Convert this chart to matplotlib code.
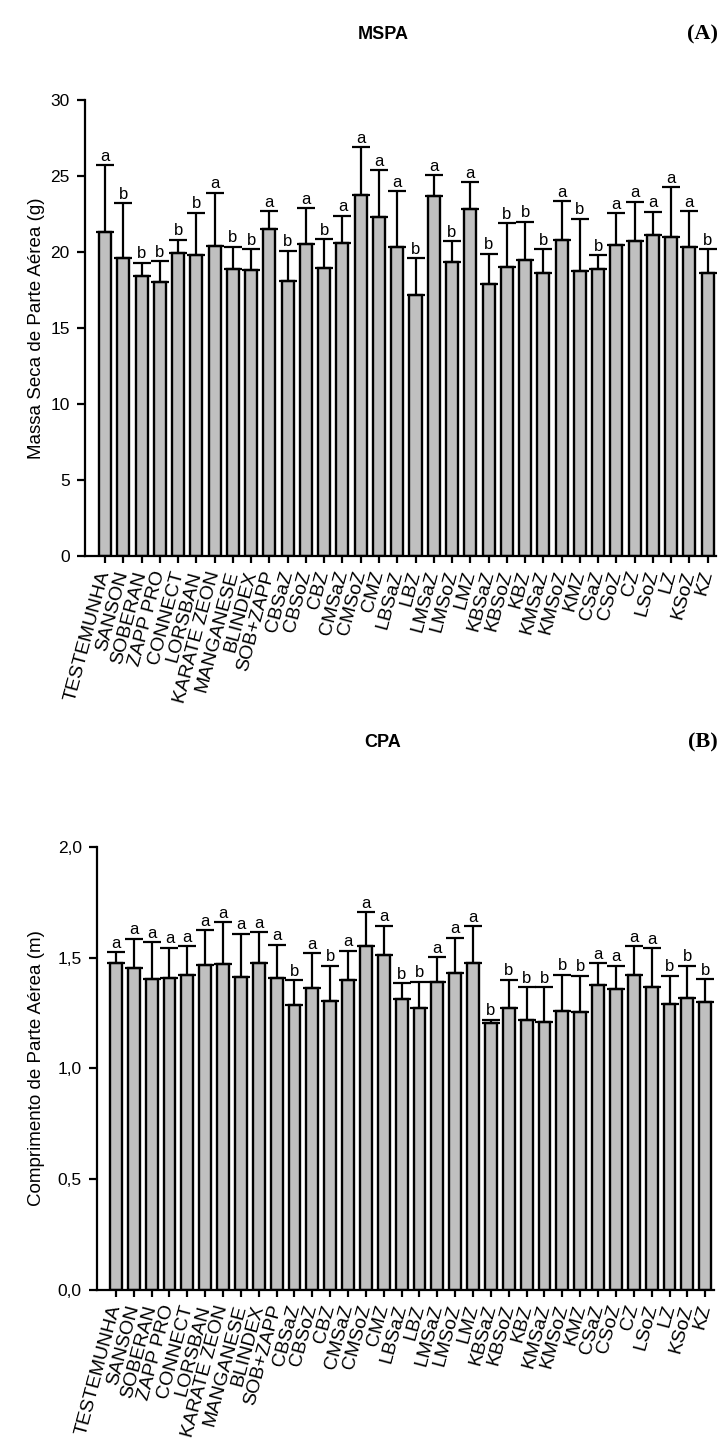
import numpy as np
import matplotlib.pyplot as plt

plt.rcParams['font.family'] = ['Liberation Sans', 'DejaVu Sans']

treatments = ['TESTEMUNHA', 'SANSON', 'SOBERAN', 'ZAPP PRO', 'CONNECT', 'LORSBAN',
              'KARATE ZEON', 'MANGANESE', 'BLINDEX', 'SOB+ZAPP', 'CBSaZ', 'CBSoZ',
              'CBZ', 'CMSaZ', 'CMSoZ', 'CMZ', 'LBSaZ', 'LBZ', 'LMSaZ', 'LMSoZ', 'LMZ',
              'KBSaZ', 'KBSoZ', 'KBZ', 'KMSaZ', 'KMSoZ', 'KMZ', 'CSaZ', 'CSoZ', 'CZ',
              'LSoZ', 'LZ', 'KSoZ', 'KZ']

# MSPA - massa seca de parte aerea (g)
mspa_mean = [21.3, 19.6, 18.4, 18.05, 19.95, 19.8, 20.4, 18.9, 18.85, 21.5, 18.1, 20.55,
             18.95, 20.6, 23.75, 22.3, 20.3, 17.2, 23.7, 19.35, 22.8, 17.9, 19.0, 19.5,
             18.65, 20.8, 18.75, 18.9, 20.45, 20.7, 21.1, 21.0, 20.3, 18.6]
mspa_sd = [4.4, 3.6, 0.9, 1.35, 0.85, 2.8, 3.5, 1.45, 1.35, 1.2, 2.0, 2.35, 1.9, 1.8,
           3.15, 3.1, 3.7, 2.4, 1.35, 1.35, 1.8, 2.0, 2.9, 2.5, 1.55, 2.55, 3.45, 0.9,
           2.1, 2.6, 1.55, 3.25, 2.4, 1.6]
mspa_letters = ['a', 'b', 'b', 'b', 'b', 'b', 'a', 'b', 'b', 'a', 'b', 'a', 'b', 'a', 'a',
                'a', 'a', 'b', 'a', 'b', 'a', 'b', 'b', 'b', 'b', 'a', 'b', 'b', 'a', 'a',
                'a', 'a', 'a', 'b']

# CPA - comprimento de parte aerea (m)
cpa_mean = [1.475, 1.455, 1.404, 1.407, 1.421, 1.469, 1.472, 1.415, 1.476, 1.409, 1.285,
            1.362, 1.305, 1.40, 1.554, 1.511, 1.315, 1.275, 1.392, 1.43, 1.478, 1.205,
            1.275, 1.22, 1.21, 1.26, 1.255, 1.375, 1.36, 1.422, 1.368, 1.29, 1.32, 1.30]
cpa_sd = [0.05, 0.13, 0.166, 0.138, 0.131, 0.156, 0.189, 0.194, 0.139, 0.15, 0.113,
          0.158, 0.159, 0.132, 0.152, 0.134, 0.071, 0.117, 0.111, 0.161, 0.165, 0.015,
          0.125, 0.148, 0.158, 0.164, 0.164, 0.101, 0.104, 0.131, 0.175, 0.129, 0.144,
          0.103]
cpa_letters = ['a', 'a', 'a', 'a', 'a', 'a', 'a', 'a', 'a', 'a', 'b', 'a', 'b', 'a', 'a',
               'a', 'b', 'b', 'a', 'a', 'a', 'b', 'b', 'b', 'b', 'b', 'b', 'a', 'a', 'a',
               'a', 'b', 'b', 'b']


def panel(ax, mean, sd, letters, ylim, yticks, yticklabels, ylabel, xlim, labelpad):
    x = np.arange(len(treatments))
    mean = np.array(mean)
    sd = np.array(sd)
    ax.bar(x, mean, width=0.66, color='#c0c0c0', edgecolor='black', linewidth=1.7, zorder=2)
    ax.errorbar(x, mean, yerr=[np.zeros_like(sd), sd], fmt='none', ecolor='black',
                elinewidth=1.6, capsize=6.5, capthick=1.6, zorder=3)
    for xi, top, lt in zip(x, mean + sd, letters):
        ax.annotate(lt, (xi, top), xytext=(0, 1.0), textcoords='offset points',
                    ha='center', va='bottom', fontsize=12)
    ax.set_xlim(xlim)
    ax.set_ylim(ylim)
    ax.set_yticks(yticks)
    ax.set_yticklabels(yticklabels, fontsize=12.5)
    ax.set_xticks(x)
    ax.set_xticklabels(treatments, rotation=75, ha='right', va='center',
                       rotation_mode='anchor', fontsize=14)
    ax.set_ylabel(ylabel, fontsize=13.5, labelpad=labelpad)
    ax.spines['top'].set_visible(False)
    ax.spines['right'].set_visible(False)
    ax.spines['left'].set_linewidth(1.6)
    ax.spines['bottom'].set_linewidth(1.6)
    ax.tick_params(axis='both', direction='out', width=1.6)
    ax.tick_params(axis='y', length=6, pad=5)
    ax.tick_params(axis='x', length=5, pad=6)


fig = plt.figure(figsize=(7.21, 14.54), dpi=100)

ax1 = fig.add_axes([0.1179, 0.6176, 0.875, 0.3136])
panel(ax1, mspa_mean, mspa_sd, mspa_letters, (0, 30), range(0, 31, 5),
      [str(v) for v in range(0, 31, 5)], 'Massa Seca de Parte Aérea (g)', (-1.1, 33.45), 4)
fig.text(0.531, 0.976, 'MSPA', ha='center', va='center', fontsize=13, fontweight='bold')
fig.text(0.975, 0.976, '(A)', ha='center', va='center', fontsize=16, fontweight='bold',
         family='Liberation Serif')

ax2 = fig.add_axes([0.1345, 0.1128, 0.856, 0.3047])
panel(ax2, cpa_mean, cpa_sd, cpa_letters, (0, 2.0), [0, 0.5, 1.0, 1.5, 2.0],
      ['0,0', '0,5', '1,0', '1,5', '2,0'], 'Comprimento de Parte Aérea (m)', (-1.06, 33.5), 9)
fig.text(0.531, 0.4895, 'CPA', ha='center', va='center', fontsize=13, fontweight='bold')
fig.text(0.975, 0.4895, '(B)', ha='center', va='center', fontsize=16, fontweight='bold',
         family='Liberation Serif')

plt.savefig('out.png', dpi=100)
